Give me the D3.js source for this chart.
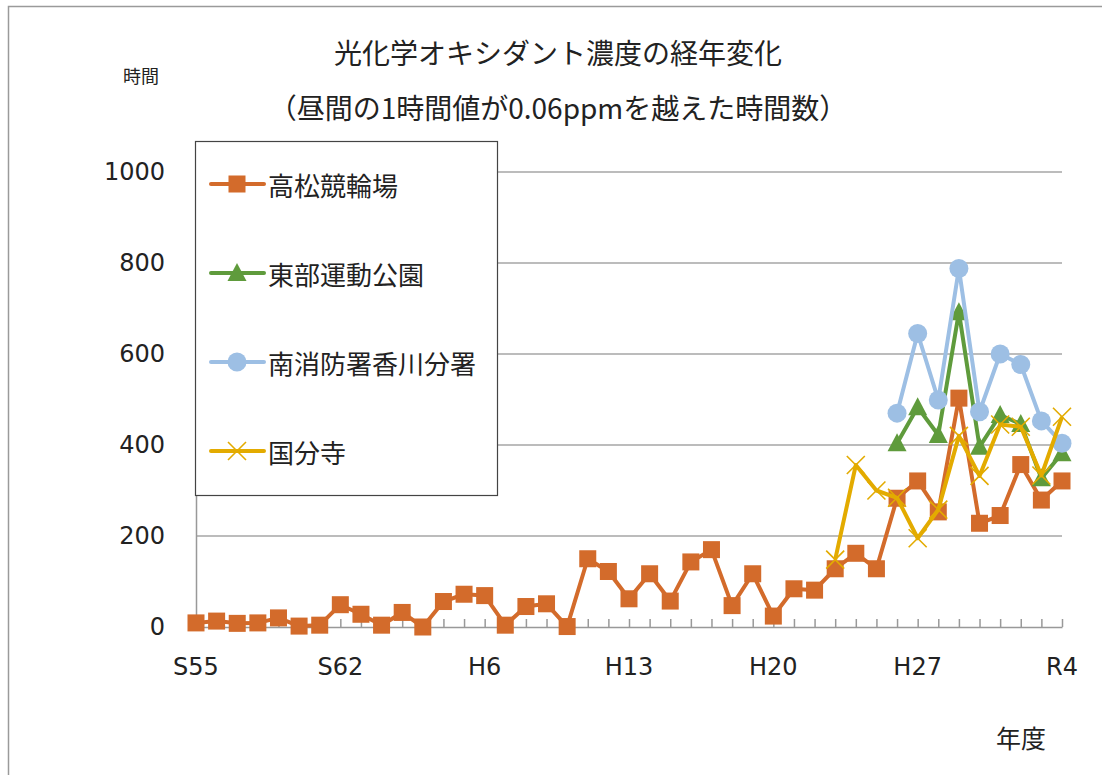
<!DOCTYPE html>
<html lang="ja">
<head>
<meta charset="UTF-8">
<title>光化学オキシダント濃度の経年変化</title>
<script src="https://d3js.org/d3.v7.min.js"></script>
<style>
    body { margin: 0; background: #fff; }
    svg { display: block; font-family: "DejaVu Sans", "Noto Sans CJK JP", sans-serif; }
    .grid line { stroke: #a6a6a6; stroke-width: 1.3px; }
    .axis path, .axis line { stroke: #999; stroke-width: 1.5px; }
    .lbl { fill: #222; }
</style>
</head>
<body>
<svg></svg>
<script>
// 年度 (S55 .. R4)
const years = [];
for (let i = 55; i <= 63; i++) years.push("S" + i);
for (let i = 1; i <= 30; i++) years.push("H" + i);
for (let i = 1; i <= 4; i++) years.push("R" + i);

const takamatsu = [9, 13, 8, 9, 20, 2, 4, 49, 28, 4, 32, 0, 56, 72, 69, 4, 45, 51, 1, 150,
    122, 62, 117, 57, 143, 170, 47, 117, 24, 84, 81, 128, 162, 128, 283, 321, 253, 503, 228, 245,
    357, 279, 321];
const toubu = [404, 483, 422, 692, 396, 466, 446, 327, 382];          // H26 ..
const minami = [470, 645, 499, 788, 473, 600, 577, 453, 404];         // H26 ..
const kokubunji = [148, 356, 300, 284, 195, 258, 420, 332, 445, 440, 333, 462]; // H23 ..

const yTicks = [0, 200, 400, 600, 800, 1000];

// pad the short series with nulls so they line up with years
function pad(vals) {
    return years.map((y, i) => {
        const k = i - (years.length - vals.length);
        return k >= 0 ? vals[k] : null;
    });
}

const series = [
    { name: "高松競輪場", color: "#d36b2b", marker: "square", values: takamatsu },
    { name: "東部運動公園", color: "#5f9b3c", marker: "triangle", values: pad(toubu) },
    { name: "南消防署香川分署", color: "#9dbfe4", marker: "circle", values: pad(minami) },
    { name: "国分寺", color: "#e3ab00", marker: "cross", values: pad(kokubunji) }
];

const width = 1102, height = 775;
const svg = d3.select("svg").attr("width", width).attr("height", height);

// outer chart frame (runs off the right/bottom edge)
svg.append("rect")
    .attr("x", 8.5).attr("y", 6.5)
    .attr("width", 1300).attr("height", 1000)
    .attr("fill", "none").attr("stroke", "#9a9a9a").attr("stroke-width", 1.5);

const x = d3.scalePoint().domain(d3.range(years.length)).range([196, 1062]);
const y = d3.scaleLinear().domain([0, 1000]).range([627, 172]);

// gridlines
svg.append("g").attr("class", "grid")
    .selectAll("line")
    .data(yTicks.filter(d => d > 0))
    .join("line")
    .attr("x1", 196).attr("x2", 1062)
    .attr("y1", d => y(d)).attr("y2", d => y(d));

// y axis
const yAxis = svg.append("g").attr("class", "axis")
    .attr("transform", "translate(196,0)")
    .call(d3.axisLeft(y).tickValues(yTicks).tickFormat(d3.format("d")).tickSize(0).tickPadding(31));
yAxis.selectAll("text").attr("class", "lbl").style("font-size", "24px")
    .style("font-family", "DejaVu Sans");

// x axis with inside ticks
const xAxis = svg.append("g").attr("class", "axis")
    .attr("transform", "translate(0,627)")
    .call(d3.axisBottom(x).tickSizeInner(-8).tickSizeOuter(0).tickFormat(() => ""));
xAxis.selectAll(".tick text").remove();
svg.append("g")
    .selectAll("text")
    .data(d3.range(years.length).filter(i => i % 7 === 0))
    .join("text")
    .attr("class", "lbl")
    .attr("x", d => x(d)).attr("y", 667)
    .attr("text-anchor", "middle").attr("dominant-baseline", "central")
    .style("font-size", "24px")
    .text(d => years[d]);

// markers
function drawMarker(g, type, color) {
    if (type === "square") {
        g.append("rect").attr("x", -8.5).attr("y", -8.5).attr("width", 17).attr("height", 17)
            .attr("fill", color);
    } else if (type === "triangle") {
        g.append("path").attr("d", "M0,-10L9.5,8L-9.5,8Z").attr("fill", color);
    } else if (type === "circle") {
        g.append("circle").attr("r", 9.5).attr("fill", color);
    } else {
        g.append("path").attr("d", "M-9,-9L9,9M-9,9L9,-9")
            .attr("stroke", color).attr("stroke-width", 1.6).attr("fill", "none");
    }
}

const line = d3.line()
    .defined(d => d != null)
    .x((d, i) => x(i))
    .y(d => y(d));

series.forEach(s => {
    const g = svg.append("g");
    g.append("path")
        .attr("d", line(s.values))
        .attr("fill", "none")
        .attr("stroke", s.color)
        .attr("stroke-width", 4)
        .attr("stroke-linejoin", "round");
    s.values.forEach((v, i) => {
        if (v == null) return;
        const m = g.append("g").attr("transform", `translate(${x(i)},${y(v)})`);
        drawMarker(m, s.marker, s.color);
    });
});

// legend
const legend = svg.append("g");
legend.append("rect")
    .attr("x", 195.5).attr("y", 141.5).attr("width", 302).attr("height", 354)
    .attr("fill", "#fff").attr("stroke", "#444").attr("stroke-width", 1.2);
series.forEach((s, i) => {
    const ly = 184 + i * 89;
    const row = legend.append("g");
    row.append("line").attr("x1", 211).attr("x2", 264).attr("y1", ly).attr("y2", ly)
        .attr("stroke", s.color).attr("stroke-width", 4).attr("stroke-linecap", "round");
    drawMarker(row.append("g").attr("transform", `translate(237,${ly})`), s.marker, s.color);
    row.append("text")
        .attr("class", "lbl")
        .attr("x", 268).attr("y", ly)
        .attr("dominant-baseline", "central")
        .style("font-family", "Noto Sans CJK JP")
        .style("font-size", "26px")
        .text(s.name);
});

// titles
svg.append("text").attr("class", "lbl")
    .attr("x", 558).attr("y", 52)
    .attr("text-anchor", "middle").attr("dominant-baseline", "central")
    .style("font-family", "Noto Sans CJK JP").style("font-size", "28px")
    .text("光化学オキシダント濃度の経年変化");
svg.append("text").attr("class", "lbl")
    .attr("x", 558).attr("y", 107)
    .attr("text-anchor", "middle").attr("dominant-baseline", "central")
    .style("font-family", "Noto Sans CJK JP").style("font-size", "28px")
    .text("（昼間の1時間値が0.06ppmを越えた時間数）");

svg.append("text").attr("class", "lbl")
    .attr("x", 141).attr("y", 75)
    .attr("text-anchor", "middle").attr("dominant-baseline", "central")
    .style("font-family", "Noto Sans CJK JP").style("font-size", "18px")
    .text("時間");
svg.append("text").attr("class", "lbl")
    .attr("x", 1021).attr("y", 737)
    .attr("text-anchor", "middle").attr("dominant-baseline", "central")
    .style("font-family", "Noto Sans CJK JP").style("font-size", "25px")
    .text("年度");
</script>
</body>
</html>
